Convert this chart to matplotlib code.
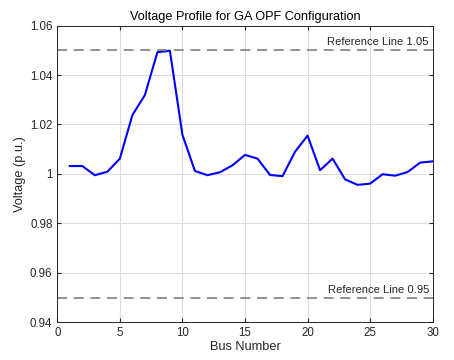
import matplotlib
matplotlib.use('Agg')
import matplotlib.pyplot as plt
import numpy as np

plt.rcParams['font.family'] = ['Liberation Sans', 'DejaVu Sans']

# bus voltages
bus = np.arange(1, 31)
voltage = [1.0032, 1.0032, 0.9995, 1.0009, 1.0062, 1.0238, 1.0319, 1.0492, 1.0498, 1.0158,
           1.0012, 0.9995, 1.0007, 1.0035, 1.0077, 1.0062, 0.9996, 0.9991, 1.0090, 1.0155,
           1.0015, 1.0062, 0.9978, 0.9956, 0.9961, 0.9999, 0.9993, 1.0008, 1.0046, 1.0051]
ref_upper = 1.05
ref_lower = 0.95
xticks = [0, 5, 10, 15, 20, 25, 30]
yticks = [0.94, 0.96, 0.98, 1.00, 1.02, 1.04, 1.06]
ytick_labels = ['0.94', '0.96', '0.98', '1', '1.02', '1.04', '1.06']

fig = plt.figure(figsize=(4.54, 3.6), dpi=100)
ax = fig.add_axes([0.1262, 0.1044, 0.8269, 0.8247])

ax.plot(bus, voltage, color='#0000ff', linewidth=1.5)

for ref in (ref_upper, ref_lower):
    ax.axhline(ref, color='#7f7f7f', linestyle=(0, (6, 4)), linewidth=1.2)
    ax.annotate('Reference Line %.2f' % ref, xy=(29.7, ref), xytext=(0, 2),
                textcoords='offset points', ha='right', va='bottom',
                fontsize=8.1, color='#262626')

ax.set_xlim(0, 30)
ax.set_ylim(0.94, 1.06)
ax.set_xticks(xticks)
ax.set_yticks(yticks)
ax.set_yticklabels(ytick_labels)
ax.grid(True, color='#dcdcdc', linewidth=0.8)
ax.set_axisbelow(True)
ax.tick_params(direction='in', length=3, labelsize=8.3, colors='#262626',
               top=True, right=True, labeltop=False, labelright=False)
for s in ax.spines.values():
    s.set_color('#262626')
    s.set_linewidth(0.7)

ax.set_xlabel('Bus Number', fontsize=9.2, color='#262626', labelpad=1)
ax.set_ylabel('Voltage (p.u.)', fontsize=9.2, color='#262626', labelpad=3)
ax.set_title('Voltage Profile for GA OPF Configuration', fontsize=9.2, color='#000000', pad=4)

fig.savefig('out.png', dpi=100)
